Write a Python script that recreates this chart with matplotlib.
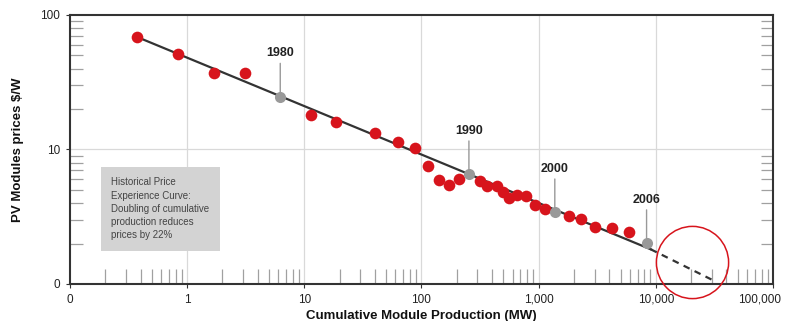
import matplotlib
matplotlib.use("Agg")
import matplotlib.pyplot as plt
import matplotlib.transforms as mtransforms
from matplotlib.ticker import FixedLocator, LogLocator, NullFormatter

plt.rcParams['font.family'] = ['Liberation Sans Narrow', 'Liberation Sans', 'DejaVu Sans']

# yearly module prices (red dots)
prod_mw = [0.374, 0.843, 1.68, 3.09, 11.4, 18.8, 40.5, 62.7, 88.9, 114, 141, 173, 211,
           313, 363, 438, 497, 557, 655, 782, 938, 1140, 1828, 2307, 3055, 4236, 5916]
price = [68.6, 51.3, 37.2, 37.2, 18.1, 15.9, 13.2, 11.4, 10.2, 7.58, 5.98, 5.40, 6.0,
         5.88, 5.31, 5.35, 4.86, 4.38, 4.59, 4.54, 3.87, 3.60, 3.22, 3.03, 2.65, 2.62, 2.45]

# labelled years on the curve (grey dots)
years = ["1980", "1990", "2000", "2006"]
year_mw = [6.23, 254, 1374, 8340]
year_price = [24.7, 6.54, 3.41, 2.01]

# experience curve, solid part and dashed projection
fit_mw = [0.374, 9060]
fit_price = [68.6, 1.81]
proj_mw = [9060, 30500]
proj_price = [1.81, 1.07]

xticks = [0.1, 1, 10, 100, 1000, 10000, 100000]
xticklabels = ["0", "1", "10", "100", "1,000", "10,000", "100,000"]
yticks = [1, 10, 100]
yticklabels = ["0", "10", "100"]

fig = plt.figure(figsize=(7.91, 3.21), dpi=100)
ax = fig.add_axes([0.0885, 0.1153, 0.8887, 0.838])
ax.set_xscale("log")
ax.set_yscale("log")
ax.set_xlim(0.1, 100000)
ax.set_ylim(1, 100)

# grid
for v in xticks[1:-1]:
    ax.axvline(v, color="#d9d9d9", lw=0.9, zorder=0)
ax.axhline(10, color="#d9d9d9", lw=0.9, zorder=0)

ax.plot(fit_mw, fit_price, color="#333333", lw=1.6, zorder=2)
ax.plot(proj_mw, proj_price, color="#333333", lw=1.6, ls=(0, (3, 2.5)), zorder=2)
ax.plot(prod_mw, price, "o", color="#d7141c", ms=8.4, mec="none", zorder=3)
ax.plot(year_mw, year_price, "o", color="#999999", ms=8, mec="none", zorder=4)

# year labels with leader lines
for yr, xm, ym in zip(years, year_mw, year_price):
    ax.annotate(yr, xy=(xm, ym), xytext=(0, 27), textcoords="offset points",
                ha="center", va="bottom", fontsize=9, fontweight="bold", color="#222222",
                arrowprops=dict(arrowstyle="-", color="#999999", lw=1.0,
                                shrinkA=1, shrinkB=0))

# red circle around the projection
ax.plot([20300], [1.466], "o", ms=52, mfc="none", mec="#d7141c", mew=1.1,
        clip_on=False, zorder=5)

# info box
ax.text(0.225, 6.2, "Historical Price\nExperience Curve:\nDoubling of cumulative\nproduction reduces\nprices by 22%",
        fontsize=7, color="#444444", va="top", ha="left", linespacing=1.4,
        bbox=dict(boxstyle="square,pad=1.1", fc="#d3d3d3", ec="none"))

# ticks
ax.xaxis.set_major_locator(FixedLocator(xticks))
ax.set_xticklabels(xticklabels)
ax.yaxis.set_major_locator(FixedLocator(yticks))
ax.set_yticklabels(yticklabels)
ax.xaxis.set_minor_locator(LogLocator(base=10, subs=range(2, 10), numticks=20))
ax.yaxis.set_minor_locator(LogLocator(base=10, subs=range(2, 10), numticks=20))
ax.xaxis.set_minor_formatter(NullFormatter())
ax.yaxis.set_minor_formatter(NullFormatter())
ax.tick_params(which="major", direction="out", length=3, color="#333333",
               labelsize=8.5, labelcolor="#222222", pad=4)
ax.tick_params(axis="x", which="minor", direction="in", length=11, width=0.9,
               color="#a0a0a0", top=False, bottom=True)
ax.tick_params(axis="y", which="minor", direction="in", length=9, width=0.9,
               color="#a0a0a0", left=True, right=True)

# nudge the last x label so it stays inside the image
last = ax.get_xticklabels()[-1]
last.set_transform(last.get_transform() +
                   mtransforms.ScaledTranslation(-10 / 72, 0, fig.dpi_scale_trans))

for s in ax.spines.values():
    s.set_color("#333333")
    s.set_linewidth(1.5)

ax.set_xlabel("Cumulative Module Production (MW)", fontsize=9.5, fontweight="bold",
              color="#111111", labelpad=3)
ax.set_ylabel("PV Modules prices $/W", fontsize=9.5, fontweight="bold",
              color="#111111", labelpad=12)

fig.savefig("out.png", dpi=100)
